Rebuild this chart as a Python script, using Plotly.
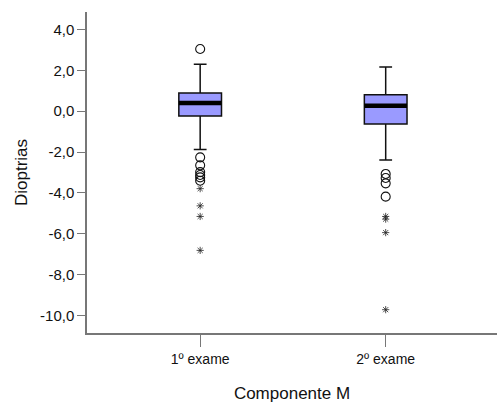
import plotly.graph_objects as go

categories = ["1º exame", "2º exame"]
q1 = [-0.24, -0.63]
median = [0.40, 0.26]
q3 = [0.89, 0.80]
lower_whisker = [-1.87, -2.39]
upper_whisker = [2.29, 2.16]

circle_outliers = {
    "1º exame": [3.04, -2.26, -2.65, -2.98, -3.12, -3.24, -3.40],
    "2º exame": [-3.07, -3.27, -3.53, -4.18],
}
extreme_outliers = {
    "1º exame": [-3.79, -4.63, -5.15, -6.81],
    "2º exame": [-5.15, -5.28, -5.94, -9.71],
}

y_tickvals = [4, 2, 0, -2, -4, -6, -8, -10]
y_ticktext = ["4,0", "2,0", "0,0", "-2,0", "-4,0", "-6,0", "-8,0", "-10,0"]

fig = go.Figure()
fig.add_trace(go.Box(
    x=categories, q1=q1, median=median, q3=q3,
    lowerfence=lower_whisker, upperfence=upper_whisker,
    fillcolor="#9a9aff", line=dict(color="#111111", width=1.5),
    width=0.23, whiskerwidth=0.3, boxpoints=False, showlegend=False,
    hoverinfo="skip",
))
# thick median line
fig.add_trace(go.Box(
    x=categories, q1=median, median=median, q3=median,
    lowerfence=median, upperfence=median,
    fillcolor="rgba(0,0,0,0)", line=dict(color="black", width=4.5),
    width=0.23, whiskerwidth=0, boxpoints=False, showlegend=False,
    hoverinfo="skip",
))
cx, cy, ex, ey = [], [], [], []
for c in categories:
    for v in circle_outliers[c]:
        cx.append(c); cy.append(v)
    for v in extreme_outliers[c]:
        ex.append(c); ey.append(v)
fig.add_trace(go.Scatter(
    x=cx, y=cy, mode="markers", showlegend=False,
    marker=dict(symbol="circle-open", size=9, color="#111111", line=dict(width=1.1)),
))
fig.add_trace(go.Scatter(
    x=ex, y=ey, mode="markers", showlegend=False,
    marker=dict(symbol="asterisk-open", size=6, color="#222222", line=dict(width=0.8)),
))

font = "Liberation Sans, Arial, sans-serif"
fig.update_layout(
    width=498, height=407,
    margin=dict(l=87, r=1, t=12, b=74),
    paper_bgcolor="white", plot_bgcolor="white",
    boxmode="overlay",
    font=dict(family=font, color="#111111"),
    xaxis=dict(
        type="category", range=[-0.61, 1.6],
        showline=True, linecolor="#777777", linewidth=1.5,
        ticks="outside", ticklen=12, tickcolor="#777777", tickwidth=1.2,
        tickfont=dict(size=14, family=font),
        showgrid=False, zeroline=False,
        title=dict(text="Componente M", font=dict(size=17, family=font), standoff=22),
    ),
    yaxis=dict(
        range=[-10.85, 4.85],
        tickvals=y_tickvals, ticktext=y_ticktext,
        showline=True, linecolor="#777777", linewidth=1.5,
        ticks="outside", ticklen=8, tickcolor="#777777", tickwidth=1.2,
        tickfont=dict(size=15, family=font),
        showgrid=False, zeroline=False,
        title=dict(text="Dioptrias", font=dict(size=17, family=font), standoff=8),
    ),
)

fig.write_html("out.html")
